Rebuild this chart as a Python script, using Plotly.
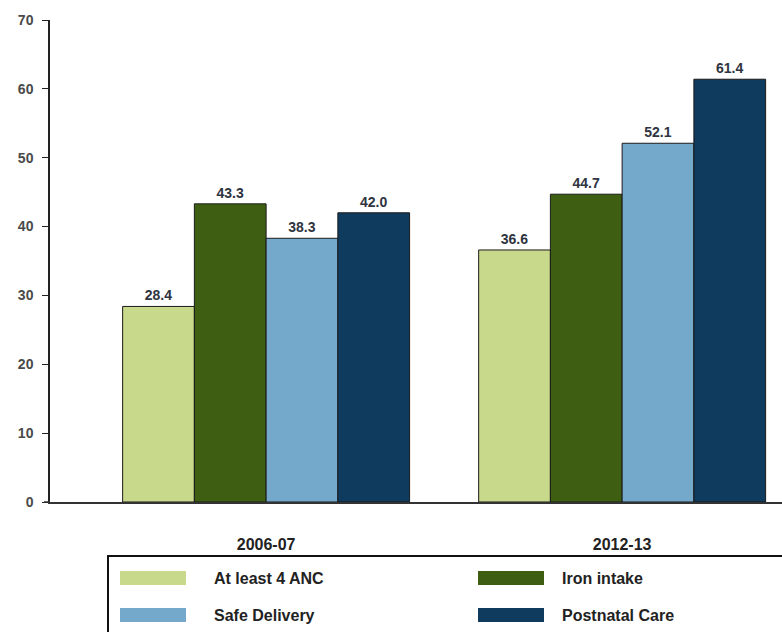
import plotly.graph_objects as go

categories = ["2006-07", "2012-13"]
series_names = ["At least 4 ANC", "Iron intake", "Safe Delivery", "Postnatal Care"]
series_values = [
    [28.4, 36.6],
    [43.3, 44.7],
    [38.3, 52.1],
    [42.0, 61.4],
]
colors = ["#c9d98c", "#3e5f12", "#74a9cc", "#0f3b5e"]
y_ticks = [0, 10, 20, 30, 40, 50, 60, 70]

W, H = 782, 632
ML, MR, MT, MB = 50, 0, 20, 130
PW, PH = W - ML - MR, H - MT - MB


def px_x(p):
    return (p - ML) / PW


def px_y(p):
    return (H - MB - p) / PH


xs = list(range(len(categories)))
fig = go.Figure()
for name, vals, col in zip(series_names, series_values, colors):
    fig.add_trace(go.Bar(
        x=xs, y=vals, name=name,
        marker=dict(color=col, line=dict(color="#1a1a1a", width=1)),
        texttemplate="<b>%{y:.1f}</b>", textposition="outside",
        textfont=dict(family="Liberation Sans", size=14, color="#2e3440"),
        cliponaxis=False, showlegend=False,
    ))

shapes = []
annotations = []
# legend box
shapes.append(dict(type="rect", xref="paper", yref="paper",
                   x0=px_x(108), x1=px_x(795), y0=px_y(556), y1=px_y(645),
                   line=dict(color="#111111", width=2), fillcolor="rgba(0,0,0,0)"))
# axis extension to the left
shapes.append(dict(type="line", xref="paper", yref="paper",
                   x0=px_x(44), x1=px_x(50), y0=0, y1=0,
                   line=dict(color="#333333", width=1.5)))
pos = [(120, 578), (478, 578), (120, 615), (478, 615)]
text_x = [212, 560, 212, 560]
for (sx, sy), tx, name, col in zip(pos, text_x, series_names, colors):
    shapes.append(dict(type="rect", xref="paper", yref="paper",
                       x0=px_x(sx), x1=px_x(sx + 66), y0=px_y(sy + 7), y1=px_y(sy - 7),
                       line=dict(width=0), fillcolor=col))
    annotations.append(dict(xref="paper", yref="paper", x=px_x(tx), y=px_y(sy),
                            xanchor="left", yanchor="middle", showarrow=False,
                            text="<b>%s</b>" % name,
                            font=dict(family="Liberation Sans", size=16, color="#222222")))

fig.update_layout(
    width=W, height=H,
    margin=dict(l=ML, r=MR, t=MT, b=MB),
    paper_bgcolor="white", plot_bgcolor="white",
    barmode="group", bargap=0.194, bargroupgap=0,
    font=dict(family="Liberation Sans", color="#333333"),
    shapes=shapes, annotations=annotations,
    xaxis=dict(range=[-0.607, 1.449], tickvals=xs,
               ticktext=["<b>%s</b>" % c for c in categories],
               tickfont=dict(family="Liberation Sans", size=16, color="#222222"),
               showline=True, linecolor="#333333", linewidth=1.5,
               ticks="", showgrid=False, zeroline=False, ticklabelstandoff=27),
    yaxis=dict(range=[0, 70], tickvals=y_ticks,
               ticktext=["<b>%d</b>" % t for t in y_ticks],
               tickfont=dict(family="Liberation Sans", size=14, color="#4a4a4a"),
               showline=True, linecolor="#222222", linewidth=1.5,
               ticks="outside", ticklen=6, tickcolor="#222222",
               ticklabelstandoff=6,
               showgrid=False, zeroline=False),
)
fig.write_html("out.html")
